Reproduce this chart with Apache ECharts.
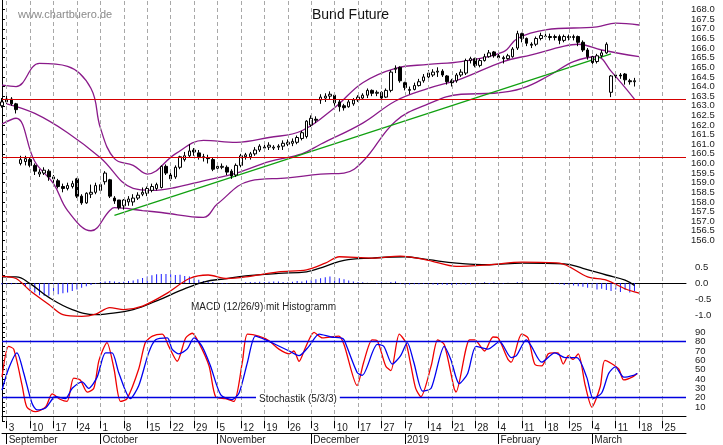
<!DOCTYPE html>
<html>
<head>
<meta charset="utf-8">
<script src="https://cdn.jsdelivr.net/npm/echarts@6/dist/echarts.min.js"></script>
<style>
html,body{margin:0;padding:0;background:#fff}
#chart{width:723px;height:445px}
</style>
</head>
<body>
<div id="chart"></div>
<script>
// Wochen (Montag) und Monate
var weekLabels=['3','10','17','24','1','8','15','22','29','5','12','19','26','3','10','17','27','7','14','21','28','4','11','18','25','4','11','18','25'];
var monthNames=['September','October','November','December','2019','February','March'];
var monthWeek=[0,4,9,13,17,21,25];
var nSlots=147;

// Kerzen: [open, close, low, high]
var candles=[
[163.0,163.2,162.9,163.4],[163.2,163.35,163.1,163.65],[163.35,163.1,163.0,163.45],[163.1,162.8,162.6,163.15],
[160.0,160.2,159.9,160.4],[160.1,160.25,159.9,160.4],[160.2,159.9,159.8,160.3],[159.9,159.6,159.4,160.0],
[159.45,159.55,159.3,159.7],[159.5,159.65,159.4,159.8],[159.6,159.3,159.1,159.7],[159.3,159.2,159.0,159.4],
[159.1,158.8,158.7,159.2],[158.8,158.7,158.5,158.95],[158.7,158.85,158.6,159.0],[158.8,158.95,158.7,159.1],
[159.2,158.3,158.2,159.25],[158.3,157.95,157.85,158.4],[157.95,158.45,157.9,158.5],[158.4,158.5,158.2,158.9],
[158.5,158.85,158.4,159.0],[158.6,158.9,158.5,159.0],[159.05,159.5,158.9,159.6],[159.15,158.3,158.2,159.2],
[158.2,158.05,157.9,158.3],[158.1,157.7,157.6,158.1],[157.8,158.1,157.6,158.15],[158.0,158.15,157.8,158.3],
[158.0,158.2,157.8,158.4],[158.2,158.35,158.1,158.5],[158.4,158.5,158.3,158.75],[158.45,158.7,158.3,158.8],
[158.6,158.8,158.5,158.95],[158.7,158.9,158.6,159.0],[158.75,159.85,158.7,159.9],[159.85,159.5,159.4,159.95],
[159.4,159.2,159.1,159.6],[159.3,159.8,159.2,159.9],[159.8,160.35,159.7,160.4],[160.2,160.4,160.1,160.6],
[160.4,160.65,160.3,161.0],[160.7,160.6,160.4,160.8],[160.55,160.35,160.2,160.7],[160.35,160.3,160.1,160.5],
[160.3,160.25,160.0,160.45],[160.2,159.7,159.6,160.3],[159.75,159.85,159.6,159.95],[159.8,159.85,159.7,160.0],
[159.8,159.55,159.4,159.9],[159.6,159.35,159.2,159.7],[159.4,159.9,159.3,160.0],[159.9,160.4,159.8,160.5],
[160.35,160.45,160.2,160.55],[160.35,160.5,160.2,160.6],[160.5,160.7,160.4,160.85],[160.7,160.9,160.6,161.0],
[160.8,160.85,160.7,161.1],[160.85,160.95,160.7,161.1],[160.8,160.85,160.7,160.95],[160.85,160.9,160.7,161.0],
[160.9,161.05,160.7,161.2],[161.0,161.1,160.9,161.25],[161.05,161.15,160.9,161.3],[161.1,161.35,161.0,161.45],
[161.3,161.6,161.2,161.7],[161.4,162.2,161.3,162.25],[162.0,162.35,161.9,162.5],[162.3,162.25,162.1,162.45],
[163.3,163.45,163.1,163.6],[163.4,163.5,163.2,163.65],[163.5,163.6,163.3,163.75],[163.55,163.15,163.0,163.65],
[163.2,162.95,162.7,163.3],[163.0,162.9,162.75,163.1],[162.95,163.2,162.9,163.3],[163.1,163.3,163.0,163.4],
[163.3,163.45,163.2,163.55],[163.4,163.55,163.3,163.65],[163.55,163.8,163.4,163.9],[163.8,163.65,163.5,163.85],
[163.65,163.7,163.5,163.8],[163.7,163.4,163.3,163.75],[163.45,163.8,163.4,163.9],[163.8,164.75,163.7,164.85],
[164.9,164.95,164.7,165.1],[165.0,164.3,164.2,165.05],[164.2,163.95,163.8,164.25],[163.8,163.85,163.6,164.0],
[163.85,164.05,163.8,164.2],[164.05,164.25,164.0,164.4],[164.3,164.5,164.2,164.65],[164.5,164.7,164.4,164.85],
[164.6,164.75,164.5,164.9],[164.75,164.8,164.5,165.0],[164.8,164.6,164.5,164.9],[164.55,164.25,164.1,164.6],
[164.3,164.2,164.0,164.4],[164.3,164.6,164.2,164.7],[164.6,164.75,164.5,164.9],[164.7,165.35,164.6,165.45],
[165.35,165.45,165.2,165.55],[165.45,165.1,165.0,165.5],[165.1,165.35,165.0,165.45],[165.35,165.55,165.3,165.7],
[165.55,165.75,165.5,165.9],[165.8,165.6,165.5,165.85],[165.6,165.5,165.4,165.7],[165.5,165.45,165.2,165.6],
[165.45,165.6,165.4,165.7],[165.55,165.95,165.5,166.05],[166.0,166.75,165.9,166.9],[166.75,166.5,166.3,166.8],
[166.5,166.25,166.1,166.55],[166.2,166.15,166.0,166.3],[166.2,166.5,166.1,166.6],[166.5,166.65,166.4,166.8],
[166.6,166.62,166.45,166.75],[166.6,166.55,166.4,166.75],[166.55,166.6,166.4,166.7],[166.6,166.4,166.2,166.7],
[166.4,166.6,166.3,166.7],[166.6,166.55,166.4,166.7],[166.55,166.6,166.4,166.7],[166.6,166.3,166.1,166.65],
[166.3,165.9,165.8,166.4],[165.9,165.55,165.4,166.0],[165.55,165.25,165.1,165.6],[165.3,165.6,165.2,165.7],
[165.6,165.75,165.5,165.9],[165.75,166.2,165.7,166.3],[163.7,164.55,163.45,164.6],[164.55,164.6,164.4,164.75],
[164.6,164.55,164.4,164.7],[164.65,164.35,164.1,164.7],[164.3,164.25,164.1,164.4],[164.25,164.3,164.0,164.45]
];

// Bollinger-Baender [slot, kurs]
var bandUpper=[[0,164.07],[3,164.0],[8,165.2],[14,165.05],[19,163.9],[21,161.85],[24,160.25],[28,159.9],[31,159.45],[37,160.5],[43,161.2],[50,161.1],[57,161.35],[64,161.7],[71,162.9],[77,164.2],[84,164.95],[91,165.15],[98,165.3],[107,165.8],[110,166.5],[116,166.95],[127,167.1],[131,167.3],[136,167.2]];
var bandMiddle=[[1,163.1],[7,162.6],[14,161.6],[21,160.3],[28,158.7],[32,158.6],[37,158.75],[43,159.1],[50,159.5],[57,160.1],[64,160.5],[68,161.0],[77,162.1],[84,163.25],[91,163.9],[98,164.4],[107,165.3],[113,165.65],[120,166.1],[123,166.2],[128,165.9],[136,165.55]];
var bandLower=[[0,162.05],[3,162.35],[7,160.1],[11,158.95],[14,157.55],[19,156.5],[23,157.55],[24,157.7],[30,157.55],[34,157.45],[43,157.2],[46,157.9],[53,159.1],[61,159.25],[68,159.45],[73,159.5],[77,160.1],[84,162.2],[91,163.1],[98,163.6],[105,163.65],[111,163.9],[117,164.6],[122,165.3],[127,165.55],[130,164.8],[135,163.35]];
var trendLine=[[24,157.3],[130,165.7]];
var levels=[163.35,160.3];

// MACD
var macdLine=[[0,0.19],[3,0.19],[6,-0.02],[10,-0.45],[15,-0.83],[20,-0.99],[22,-0.97],[28,-0.83],[33,-0.56],[38,-0.24],[43,0.03],[48,0.14],[52,0.22],[59,0.3],[65,0.35],[69,0.52],[73,0.71],[79,0.78],[86,0.82],[91,0.73],[97,0.62],[104,0.57],[111,0.62],[120,0.6],[124,0.46],[129,0.25],[133,0.09],[135,-0.08]];
var signalLine=[[0,0.21],[3,0.14],[6,-0.24],[10,-0.67],[13,-0.99],[17,-1.04],[20,-0.97],[23,-0.77],[26,-0.83],[30,-0.72],[35,-0.34],[40,0.14],[44,0.25],[48,0.14],[52,0.19],[59,0.35],[65,0.41],[69,0.62],[72,0.82],[79,0.78],[85,0.84],[91,0.71],[97,0.52],[104,0.57],[111,0.65],[119,0.62],[125,0.19],[129,0.09],[133,-0.18],[136,-0.32]];
var histo=[-0.05,-0.05,-0.04,-0.03,0.02,-0.1,-0.2,-0.3,-0.38,-0.4,-0.4,-0.38,-0.35,-0.32,-0.3,-0.25,-0.2,-0.15,-0.1,-0.06,
-0.03,0.03,0.05,0.06,0.05,0.03,0.04,0.06,0.08,0.12,0.16,0.2,0.24,0.27,0.28,0.28,0.27,0.25,0.26,0.22,
0.2,0.15,0.1,0.06,0.05,0.03,0.01,-0.02,-0.02,0.0,-0.01,0.0,0.02,0.03,0.03,0.04,0.03,0.04,0.05,0.05,
0.03,0.02,0.04,0.06,0.05,0.08,0.1,0.12,0.15,0.18,0.2,0.18,0.15,0.12,0.08,0.05,0.03,0.02,0.01,0.0,
-0.02,0.02,0.01,0.03,0.05,-0.03,-0.05,-0.05,-0.04,-0.04,-0.03,-0.04,-0.05,-0.06,-0.05,-0.06,-0.06,-0.05,-0.04,-0.05,
-0.04,-0.03,-0.02,0.02,-0.03,0.02,-0.02,-0.02,0.01,0.0,0.02,0.03,0.0,0.0,0.0,0.0,0.0,-0.02,-0.03,-0.04,
-0.06,-0.05,-0.08,-0.1,-0.12,-0.15,-0.16,-0.2,-0.18,-0.22,-0.25,-0.2,-0.28,-0.22,-0.3,-0.25];

// Stochastik
var stochK=[[0,42],[1.4,75],[2.5,72],[4.3,33],[5.3,10],[7.1,5],[9.3,10],[10.7,24],[12.5,18],[13.9,16],[15.3,41],[16.7,39],[18.2,26],[19.6,30],[20.7,60],[22.4,79],[23.9,51],[25.3,16],[26.7,19],[29.2,51],[30.6,79],[32.1,86],[34.2,88],[35.6,75],[37.4,59],[39.2,84],[40.6,89],[42,79],[44.2,54],[45.6,21],[47.7,19],[49.5,16],[51.3,58],[52.4,88],[54.8,86],[57,81],[59.1,72],[61.3,67],[62.3,70],[63.4,59],[64.8,74],[66.6,90],[68.4,84],[71.9,86],[73,77],[75.8,33],[77.2,58],[79,82],[80.1,81],[81.9,54],[83,49],[84.8,88],[86.2,79],[87.3,54],[88.3,30],[89.4,21],[91.6,54],[93,82],[94.4,77],[96.5,30],[96.9,26],[99.8,82],[100.9,82],[103,70],[104.8,85],[105.9,84],[108,61],[108.7,58],[110.9,88],[112.3,84],[113.7,56],[115.2,54],[116.6,67],[117.7,68],[118.7,68],[119.8,56],[120.9,65],[121.9,61],[123,67],[124.5,33],[125.9,10],[127.7,32],[128.7,60],[131.6,51],[132.7,39],[134.5,42],[135.6,46]];
var stochD=[[0,28],[1.4,51],[3.2,68],[4.6,47],[6.4,14],[7.5,7],[9.3,9],[11.4,21],[13.5,19],[15,30],[17.1,37],[18.5,30],[20.3,42],[22.1,68],[23.5,68],[24.9,47],[27.4,19],[29.2,33],[31.3,68],[32.8,82],[35.3,84],[36.3,72],[37.7,67],[39.5,72],[41,84],[42.7,75],[44.5,54],[46.7,23],[49.1,18],[50.6,25],[52.4,58],[54.1,86],[56.3,82],[58.4,77],[61.3,70],[63.4,65],[65.5,75],[67.7,88],[70.2,85],[72.3,84],[73,82],[75.8,47],[76.9,44],[80.1,77],[81.5,75],[83.3,56],[85.1,65],[86.5,79],[87.9,58],[89.8,27],[91.6,30],[94.4,75],[95.8,61],[97.6,35],[99.4,46],[101.2,75],[103.7,72],[106.2,80],[108.7,63],[109.8,65],[111.9,82],[113,75],[115.2,58],[118,68],[120.2,63],[122.7,63],[124.8,42],[126.2,19],[128,25],[129.5,46],[130.9,53],[132.7,42],[134.8,44],[135.6,46]];

// Kategorien aufbauen
var dayCats=[],monthCats=[],weekStart={},monthStart={},weekSlots=[];
for(var i=0;i<nSlots;i++){dayCats.push('');monthCats.push('');}
for(var w=0;w<weekLabels.length;w++){var s=1+w*5;dayCats[s]=weekLabels[w];weekStart[s]=true;weekSlots.push(s);}
for(var m=0;m<monthNames.length;m++){var s2=1+monthWeek[m]*5;monthCats[s2]=monthNames[m];monthStart[s2]=true;}
var isWeek=function(idx){return !!weekStart[idx];};
var isMonth=function(idx){return !!monthStart[idx];};

var FONT='Liberation Sans';
function catAxis(grid,extra){
    var a={type:'category',gridIndex:grid,data:dayCats,boundaryGap:false,
        axisLine:{show:false},axisTick:{show:false},axisLabel:{show:false},splitLine:{show:false}};
    for(var k in extra)a[k]=extra[k];
    return a;
}
function valAxis(grid){
    return {type:'value',gridIndex:grid,min:0,max:nSlots-1,show:false,splitLine:{show:false}};
}
// gestrichelte Wochenlinien
function weekGrid(xi,yi){
    return {type:'line',xAxisIndex:xi,yAxisIndex:yi,data:[],z:1,
        markLine:{silent:true,symbol:'none',label:{show:false},animation:false,
            lineStyle:{color:'#a8a8a8',width:1,type:[4,3]},
            data:weekSlots.map(function(s){return {xAxis:s};})}};
}
var PURPLE='#8a1a8a';
function line(data,color,xi,yi,w,smooth){
    return {type:'line',data:data,xAxisIndex:xi,yAxisIndex:yi,symbol:'none',smooth:smooth,z:3,
        lineStyle:{color:color,width:w},silent:true,animation:false};
}

var myChart=echarts.init(document.getElementById('chart'));
var option={
    animation:false,
    textStyle:{fontFamily:FONT},
    grid:[
        {left:2,right:37,top:-1,height:251},
        {left:2,right:37,top:251,height:72},
        {left:2,right:37,top:323,height:100}
    ],
    xAxis:[
        catAxis(0,{}),
        catAxis(1,{axisLine:{show:true,lineStyle:{color:'#000',width:1}}}),
        catAxis(2,{axisLine:{show:true,lineStyle:{color:'#000',width:1}},
            axisTick:{show:true,interval:isWeek,length:12,lineStyle:{color:'#000'}},
            axisLabel:{show:true,interval:isWeek,align:'left',margin:2,padding:[0,0,0,2],fontSize:10,color:'#222',fontFamily:FONT}}),
        {type:'category',gridIndex:2,data:monthCats,boundaryGap:false,position:'bottom',offset:12,
            axisLine:{show:true,lineStyle:{color:'#000'}},
            axisTick:{show:true,interval:isMonth,length:11,lineStyle:{color:'#000'}},
            axisLabel:{show:true,interval:isMonth,align:'left',margin:2,padding:[0,0,0,2],fontSize:10,color:'#222',fontFamily:FONT},
            splitLine:{show:false}},
        valAxis(0),valAxis(1),valAxis(2)
    ],
    yAxis:[
        {type:'value',gridIndex:0,position:'right',min:155.5,max:168.5,interval:0.5,
            axisLine:{show:true,lineStyle:{color:'#000'}},axisTick:{show:true,length:3},
            axisLabel:{showMinLabel:false,showMaxLabel:false,fontSize:9.5,margin:5,color:'#222',fontFamily:FONT,
                formatter:function(v){return v.toFixed(1);}},
            splitLine:{show:false}},
        {type:'value',gridIndex:1,position:'right',min:-1.25,max:1.0,interval:0.25,
            axisLine:{show:true,lineStyle:{color:'#000'}},axisTick:{show:true,length:3},
            axisLabel:{fontSize:9.5,margin:9,color:'#222',fontFamily:FONT,
                formatter:function(v){return (Math.abs(v*2-Math.round(v*2))<1e-6&&v<0.9&&v>-1.1)?v.toFixed(1):'';}},
            splitLine:{show:false}},
        {type:'value',gridIndex:2,position:'right',min:-5,max:100,interval:5,
            axisLine:{show:true,lineStyle:{color:'#000'}},axisTick:{show:true,length:3},
            axisLabel:{fontSize:9.5,margin:9,color:'#222',fontFamily:FONT,
                formatter:function(v){return (v%10===0&&v>0&&v<100)?String(v):'';}},
            splitLine:{show:false}}
    ],
    graphic:[
        {type:'text',left:18,top:9,style:{text:'www.chartbuero.de',fill:'#8a8a8a',font:'11px "Liberation Sans"'}},
        {type:'text',left:312,top:8,style:{text:'Bund Future',fill:'#111',font:'14px "Liberation Sans"'}},
        {type:'text',left:191,top:302,style:{text:'MACD (12/26/9) mit Histogramm',fill:'#222',font:'10px "Liberation Sans"'}},
        {type:'text',left:256,top:393,style:{text:'Stochastik (5/3/3)',fill:'#222',font:'10px "Liberation Sans"',
            backgroundColor:'#fff',padding:[1,3]},z:100}
    ],
    series:[
        weekGrid(4,0),weekGrid(5,1),weekGrid(6,2),
        {type:'candlestick',xAxisIndex:0,yAxisIndex:0,data:candles,barWidth:3,z:4,
            itemStyle:{color:'#fff',color0:'#000',borderColor:'#000',borderColor0:'#000',borderWidth:1},
            markLine:{silent:true,symbol:'none',label:{show:false},
                lineStyle:{color:'#d40000',width:1,type:'solid'},
                data:levels.map(function(v){return {yAxis:v};})}},
        line(bandUpper,PURPLE,4,0,1.3,0.4),
        line(bandMiddle,PURPLE,4,0,1.3,0.4),
        line(bandLower,PURPLE,4,0,1.3,0.4),
        line(trendLine,'#10a010',4,0,1.3,false),
        {type:'bar',xAxisIndex:1,yAxisIndex:1,data:histo,barWidth:1,itemStyle:{color:'#1a1aff'},silent:true},
        line(macdLine,'#000',5,1,1.3,0.4),
        line(signalLine,'#e00000',5,1,1.3,0.3),
        line(stochK,'#f00000',6,2,1.3,0.25),
        line(stochD,'#0000f0',6,2,1.3,0.25),
        {type:'line',xAxisIndex:6,yAxisIndex:2,data:[],
            markLine:{silent:true,symbol:'none',label:{show:false},
                lineStyle:{color:'#0000e0',width:1.3,type:'solid'},
                data:[{yAxis:80},{yAxis:20}]}}
    ]
};
myChart.setOption(option);
</script>
</body>
</html>
